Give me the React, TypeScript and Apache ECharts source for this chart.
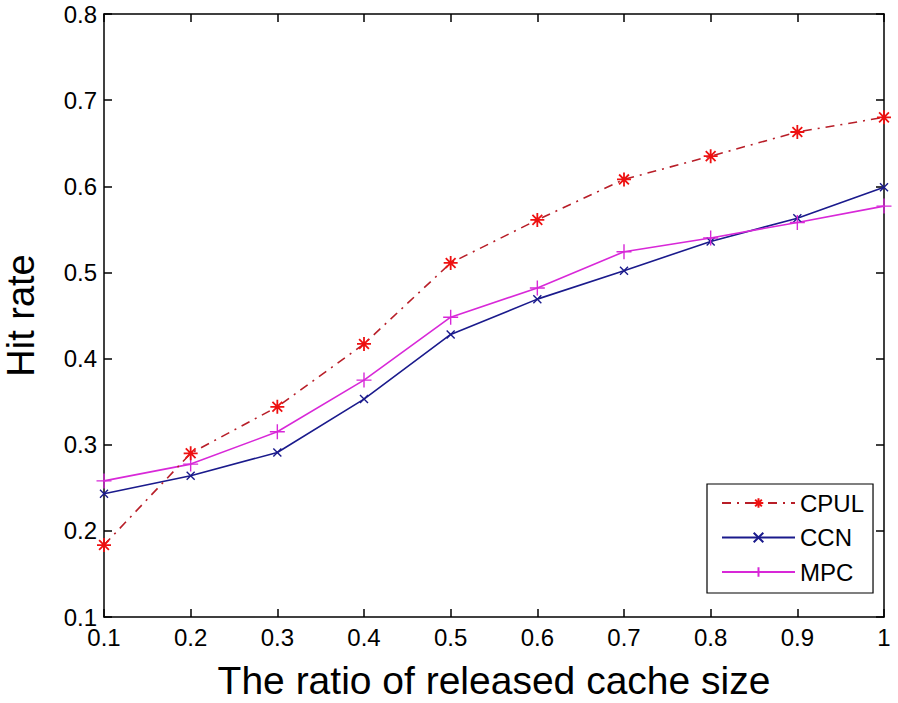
import React, { useEffect, useRef } from "react";
import * as echarts from "echarts";

const xValues = [0.1, 0.2, 0.3, 0.4, 0.5, 0.6, 0.7, 0.8, 0.9, 1.0];
const cpul = [0.1835, 0.29, 0.344, 0.417, 0.511, 0.561, 0.608, 0.635, 0.663, 0.68];
const ccn = [0.243, 0.264, 0.291, 0.353, 0.428, 0.469, 0.502, 0.536, 0.563, 0.599];
const mpc = [0.258, 0.2775, 0.315, 0.375, 0.448, 0.482, 0.524, 0.54, 0.558, 0.577];
const seriesNames = ["CPUL", "CCN", "MPC"];
const xTitle = "The ratio of released cache size";
const yTitle = "Hit rate";

const FONT = "'Liberation Sans', Arial, Helvetica, sans-serif";

const ASTERISK = "path://M0,-1L0,1M-1,0L1,0M-0.7,-0.7L0.7,0.7M-0.7,0.7L0.7,-0.7";
const CROSS = "path://M-1,-1L1,1M-1,1L1,-1";
const PLUS = "path://M0,-1L0,1M-1,0L1,0";

const pairs = (ys: number[]) => xValues.map((x, i) => [x, ys[i]]);

export default function App() {
  const ref = useRef<HTMLDivElement>(null);
  useEffect(() => {
    if (!ref.current) return;
    const chart = echarts.init(ref.current, undefined, { renderer: "svg" });
    const axisCommon = {
      type: "value" as const,
      interval: 0.1,
      axisLine: { show: true, lineStyle: { color: "#000", width: 1.5 } },
      axisTick: { show: true, inside: true, length: 8, lineStyle: { color: "#000", width: 1.5 } },
      splitLine: { show: false },
    };
    chart.setOption({
      animation: false,
      backgroundColor: "#fff",
      grid: { left: 104, right: 14, top: 14, bottom: 86, containLabel: false, outerBoundsMode: "none" },
      legend: {
        orient: "vertical",
        left: 707,
        top: 484,
        data: seriesNames,
        backgroundColor: "#fff",
        borderColor: "#000",
        borderWidth: 1.2,
        padding: [7, 9, 9, 14],
        itemWidth: 73,
        itemHeight: 12,
        itemGap: 10.5,
        textStyle: { fontFamily: FONT, fontSize: 24, color: "#000", lineHeight: 24 },
      },
      xAxis: [
        {
          ...axisCommon,
          min: 0.1,
          max: 1,
          position: "bottom",
          axisLabel: { fontFamily: FONT, fontSize: 24, color: "#000", margin: 8 },
          name: xTitle,
          nameLocation: "middle",
          nameGap: 44,
          nameTextStyle: { fontFamily: FONT, fontSize: 39, color: "#000" },
        },
        {
          ...axisCommon,
          min: 0.1,
          max: 1,
          position: "top",
          axisLabel: { show: false },
        },
      ],
      yAxis: [
        {
          ...axisCommon,
          min: 0.1,
          max: 0.8,
          position: "left",
          axisLabel: { fontFamily: FONT, fontSize: 24, color: "#000", margin: 7 },
          name: yTitle,
          nameLocation: "middle",
          nameGap: 64,
          nameTextStyle: { fontFamily: FONT, fontSize: 38, color: "#000" },
        },
        {
          ...axisCommon,
          min: 0.1,
          max: 0.8,
          position: "right",
          axisLabel: { show: false },
        },
      ],
      series: [
        {
          name: seriesNames[0],
          type: "line",
          data: pairs(cpul),
          symbol: ASTERISK,
          symbolSize: 14,
          lineStyle: { color: "#b81e28", width: 1.6, type: [9, 6, 2, 6] },
          itemStyle: { color: "#ee1111", borderColor: "#ee1111", borderWidth: 1.8 },
          z: 3,
        },
        {
          name: seriesNames[1],
          type: "line",
          data: pairs(ccn),
          symbol: CROSS,
          symbolSize: 8,
          lineStyle: { color: "#1a1a8c", width: 1.6 },
          itemStyle: { color: "#1a1a8c", borderColor: "#1a1a8c", borderWidth: 1.4 },
          z: 2,
        },
        {
          name: seriesNames[2],
          type: "line",
          data: pairs(mpc),
          symbol: PLUS,
          symbolSize: 15,
          lineStyle: { color: "#d828d8", width: 1.6 },
          itemStyle: { color: "#d828d8", borderColor: "#d828d8", borderWidth: 1.4 },
          z: 2,
        },
      ],
    });
    return () => chart.dispose();
  }, []);
  return (
    <div
      ref={ref}
      style={{ position: "fixed", left: 0, top: 0, width: 898, height: 703, background: "#fff" }}
    />
  );
}
